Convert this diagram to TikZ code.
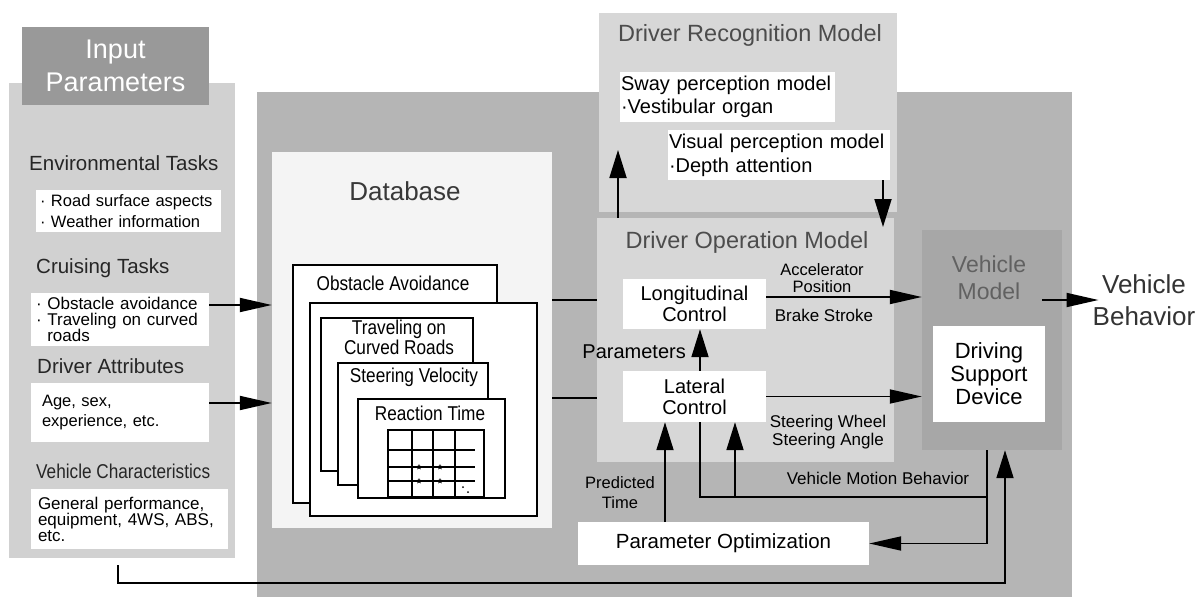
\documentclass[tikz,border=0pt]{standalone}
\usepackage{fontspec}
\setmainfont{Liberation Sans}
\newfontfamily\narrowfont{Liberation Sans}[FakeStretch=0.86]
\usetikzlibrary{arrows.meta,shapes.geometric}
\newcommand{\fsz}[2]{\fontsize{#1}{#2}\selectfont}
\definecolor{bggray}{gray}{0.71}
\definecolor{ingray}{gray}{0.82}
\definecolor{headgray}{gray}{0.60}
\definecolor{dbgray}{gray}{0.955}
\definecolor{modgray}{gray}{0.845}
\definecolor{vmgray}{gray}{0.655}

\begin{document}
\begin{tikzpicture}[x=1pt,y=-1pt]
  \tikzstyle{panel}=[rectangle, inner sep=0pt]
  \tikzstyle{wbox}=[rectangle, fill=white, inner sep=0pt]
  \tikzstyle{card}=[rectangle, draw, line width=1.2pt, fill=white, inner sep=0pt]
  \tikzstyle{cardtxt}=[font=\narrowfont\fsz{20}{18}, align=center, inner sep=0pt]
  \tikzstyle{sect}=[anchor=west, font=\fsz{20.5}{24}, inner sep=0pt, text=black!85]
  \tikzstyle{cell}=[star, star points=5, star point ratio=2.2, fill=black, inner sep=0pt, minimum size=6pt]
  \tikzstyle{ln}=[line width=1.8pt]
  \tikzstyle{harr}=[line width=1.8pt, -{Triangle[length=32pt,width=14pt]}]
  \tikzstyle{varr}=[line width=1.8pt, -{Triangle[length=28pt,width=17pt]}]
  \useasboundingbox (0,0) rectangle (1200,597);

  % panels
  \node[panel, fill=bggray, minimum width=815, minimum height=505] (bg) at (664.5,344.5) {};
  \node[panel, fill=ingray, minimum width=226, minimum height=475] (inp) at (122,320.5) {};
  \node[panel, fill=headgray, minimum width=187, minimum height=78, text=white, align=center, font=\fsz{27}{33}] (inhead) at (115.5,66) {Input\\Parameters};
  \node[panel, fill=dbgray, minimum width=280, minimum height=376] (db) at (412,340) {};
  \node[panel, fill=modgray, minimum width=298, minimum height=199] (drm) at (748,112.5) {};
  \node[panel, fill=modgray, minimum width=297, minimum height=244] (dom) at (745.5,340) {};
  \node[panel, fill=vmgray, minimum width=140, minimum height=220] (vm) at (992,340) {};

  \node[font=\fsz{26}{30}, text=black!78] (dbt) at (405,191) {Database};
  \node[font=\fsz{23.5}{28}, text=black!70] (drmt) at (750,35) {Driver Recognition Model};
  \node[font=\fsz{23.5}{28}, text=black!70] (domt) at (747,242) {Driver Operation Model};
  \node[font=\fsz{23}{27}, text=black!62, align=center] (vmt) at (989,278) {Vehicle\\Model};
  \node[font=\fsz{26}{32}, text=black!80, align=center, inner sep=0pt] (vb) at (1144,300) {Vehicle\\Behavior};

  % input parameters
  \node[sect] (envt) at (29,163) {Environmental Tasks};
  \node[wbox, text width=177, inner xsep=4, minimum height=42, align=left, font=\fsz{16.5}{21}] (env) at (128.5,211) {· Road surface aspects\\· Weather information};
  \node[sect] (cruit) at (36,268) {Cruising Tasks};
  \node[wbox, text width=168, inner xsep=5, minimum height=53, align=left, font=\fsz{17}{16}] (cru) at (120,319.5) {· Obstacle avoidance\\· Traveling on curved\\\phantom{· }roads};
  \node[sect] (attrt) at (37,366) {Driver Attributes};
  \node[wbox, text width=156, inner xsep=11, minimum height=59, align=left, font=\fsz{16.5}{20}] (attr) at (120,412.5) {Age, sex,\\experience, etc.};
  \node[sect, font=\narrowfont\fsz{20}{24}] (vcht) at (36,471) {Vehicle Characteristics};
  \node[wbox, text width=183, inner xsep=7, minimum height=60, align=left, font=\fsz{17}{16}] (vch) at (129.5,519) {General performance,\\equipment, 4WS, ABS,\\etc.};

  % database cards
  \node[card, minimum width=204, minimum height=238] (c1) at (395,384) {};
  \node[card, minimum width=227, minimum height=213] (c2) at (423.5,409.5) {};
  \node[card, minimum width=152, minimum height=153] (c3) at (397,394.5) {};
  \node[card, minimum width=150, minimum height=122] (c4) at (413,424) {};
  \node[card, minimum width=147, minimum height=99] (c5) at (431.5,448.5) {};
  \node[cardtxt] (c1t) at ([xshift=-2pt,yshift=-19pt]c1.north) {Obstacle Avoidance};
  \node[cardtxt] (c3t) at ([xshift=2pt,yshift=-20pt]c3.north) {Traveling on\\Curved Roads};
  \node[cardtxt] (c4t) at ([xshift=1pt,yshift=-15pt]c4.north) {Steering Velocity};
  \node[cardtxt] (c5t) at ([xshift=-1.5pt,yshift=-15pt]c5.north) {Reaction Time};
  \draw[line width=1.1pt] (388,430) rectangle (484,497);
  \foreach \gx in {412,433,455} \draw[line width=1.1pt] (\gx,430) -- (\gx,497);
  \foreach \gy in {450,467,481} \draw[line width=1.1pt] (388,\gy) -- (475,\gy);
  \foreach \sx/\sy in {419/467,440/467,419/481,440/481} \node[cell] at (\sx,\sy) {};
  \foreach \dx/\dy in {463/487,468/492,473/497} \fill (\dx,\dy) circle (1);

  % recognition and operation
  \node[wbox, text width=213, inner xsep=1, minimum height=50, align=left, font=\fsz{20}{23}] (sway) at (727.5,97) {Sway perception model\\·Vestibular organ};
  \node[wbox, text width=220, inner xsep=1, minimum height=50, align=left, font=\fsz{20}{24}] (vis) at (779,155) {Visual perception model\\·Depth attention};
  \node[wbox, minimum width=143, minimum height=50, align=center, font=\fsz{20}{21}] (long) at (694.5,304) {Longitudinal\\Control};
  \node[wbox, minimum width=143, minimum height=51, align=center, font=\fsz{20}{21}] (lat) at (694.5,396.5) {Lateral\\Control};
  \node[wbox, minimum width=112, minimum height=96, align=center, font=\fsz{22}{23}] (dsd) at (989,374) {Driving\\Support\\Device};
  \node[wbox, minimum width=291, minimum height=43, font=\fsz{20.5}{24}] (popt) at (723.5,543.5) {Parameter Optimization};

  \node[font=\fsz{16.5}{17}, align=center] (accl) at (822,278) {Accelerator\\Position};
  \node[font=\fsz{17}{20}] (brkl) at (824,315) {Brake Stroke};
  \node[font=\fsz{20}{24}, anchor=east, inner sep=0pt] (parl) at (686,352) {Parameters};
  \node[font=\fsz{17}{18}, align=center] (steerl) at (828,432) {Steering Wheel\\Steering Angle};
  \node[font=\fsz{16.5}{20}, align=center] (predl) at (620,493) {Predicted\\Time};
  \node[font=\fsz{17}{20}] (motl) at (878,478) {Vehicle Motion Behavior};

  % connectors
  \draw[harr] ([yshift=14.5pt]cru.east) -- ([yshift=14.5pt]cru.east -| db.west);
  \draw[harr] ([yshift=9.5pt]attr.east) -- ([yshift=9.5pt]attr.east -| db.west);
  \coordinate (dA) at (560,300);
  \coordinate (dB) at (560,398);
  \draw[ln] (db.east |- dA) -- (dom.west |- dA);
  \draw[ln] (db.east |- dB) -- (dom.west |- dB);
  \coordinate (drmIn) at (618,150);
  \draw[varr] (drmIn |- dom.north) -- (drmIn);
  \coordinate (domIn) at (883,227);
  \draw[varr] (vis.south -| domIn) -- (domIn);
  \draw[harr] ([yshift=7pt]long.east) -- ([yshift=7pt]long.east -| vm.west);
  \draw[harr] (lat.east) -- (lat.east -| vm.west);
  \coordinate (vmOut) at (1042,300);
  \draw[harr] (vmOut) -- ([xshift=6pt]vb.west);
  \coordinate (vmJ) at (987,497);
  \coordinate (latJ) at (700,497);
  \coordinate (latK) at (735,497);
  \coordinate (popJ) at (665,522);
  \draw[harr] (vm.south -| vmJ) |- (popt.east);
  \draw[ln] (vmJ) -- (latJ) -- (latJ |- lat.south);
  \draw[varr] (latK) -- (latK |- lat.south);
  \draw[varr] (lat.north -| latJ) -- (long.south -| latJ);
  \draw[varr] (popJ) -- (popJ |- lat.south);
  \coordinate (fbB) at (1005,583);
  \draw[varr] ([xshift=-4pt,yshift=-7pt]inp.south) |- (fbB) -- (fbB |- vm.south);
\end{tikzpicture}
\end{document}
